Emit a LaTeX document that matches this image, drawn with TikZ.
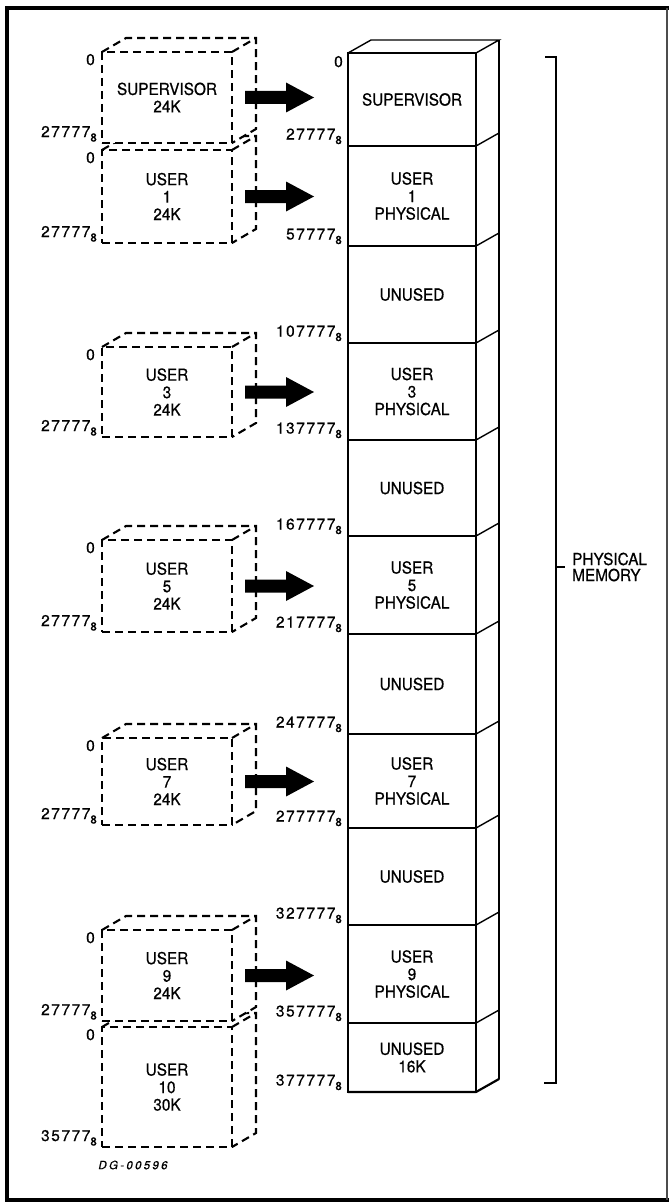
\documentclass[tikz,border=0pt]{standalone}
\usepackage{fontspec}
\setmainfont{TeX Gyre Heros}[FakeBold=0.6]
\newfontfamily\lblfont{TeX Gyre Heros}[FakeBold=0.6, FakeStretch=0.93]
\usetikzlibrary{calc}
\newcommand\eightsub{\raisebox{-4.5pt}{\fontsize{11.5}{11}\selectfont 8}}
\tikzset{
  lbl/.style={font=\lblfont\fontsize{16.5}{17.5}\selectfont, align=center},
  addr/.style={font=\fontsize{15.5}{15}\selectfont\addfontfeature{LetterSpace=10}, inner sep=0pt, anchor=base east},
  vdash/.style={dash pattern=on 8pt off 5pt, line width=2.1pt},
  vbox/.style={draw, fill=white, vdash, minimum width=130pt, inner sep=0pt, outer sep=0pt, lbl},
  mrow/.style={draw, line width=1.4pt, minimum width=128pt, inner sep=0pt, outer sep=0pt, lbl},
  mline/.style={line width=1.4pt},
}
\newcommand\vcube[5]{%
  \fill[white] ($(#2,#3)+(-65,-#4/2)$) -- ++(24,-14) -- ++(130,0) -- ++(0,#4) -- ++(-24,14) -- ++(0,-#4) -- cycle;
  \node[vbox, minimum height=#4pt] (#1) at (#2,#3) {#5};
  \draw[vdash] (#1.north west) -- ++(24,-14) -- ($(#1.north east)+(24,-14)$) -- ($(#1.south east)+(24,-14)$) -- (#1.south east);
  \draw[vdash] (#1.north east) -- ++(24,-14);
}
\newcommand\blockarrow[2]{%
  \coordinate (#1s) at ($(#1.east)+(13,0)$);
  \coordinate (#1t) at ($(#1.east -| #2.west)+(-34,0)$);
  \fill ($(#1s)+(0,-6.5)$) -- ($(#1t)+(-28,-6.5)$) -- ($(#1t)+(-28,-15)$) -- (#1t) -- ($(#1t)+(-28,15)$) -- ($(#1t)+(-28,6.5)$) -- ($(#1s)+(0,6.5)$) -- cycle;
}
\begin{document}
\begin{tikzpicture}[x=1pt,y={(0pt,-1pt)}]
\useasboundingbox (0,0) rectangle (669,1204);
% frame
\draw[line width=4pt, line cap=rect] (667,8) -- (7,8) -- (7,1200) -- (667,1200);
\draw[line width=1.2pt, black!70] (667,8) -- (667,1200);

% memory column rows
\node[mrow, minimum height=93pt] (r0) at (412,99.5) {SUPERVISOR};
\node[mrow, minimum height=100pt] (r1) at (412,196) {USER\\1\\PHYSICAL};
\node[mrow, minimum height=97pt] (r2) at (412,294.5) {UNUSED};
\node[mrow, minimum height=97pt] (r3) at (412,391.5) {USER\\3\\PHYSICAL};
\node[mrow, minimum height=96pt] (r4) at (412,488) {UNUSED};
\node[mrow, minimum height=98pt] (r5) at (412,585) {USER\\5\\PHYSICAL};
\node[mrow, minimum height=100pt] (r6) at (412,684) {UNUSED};
\node[mrow, minimum height=94pt] (r7) at (412,781) {USER\\7\\PHYSICAL};
\node[mrow, minimum height=97pt] (r8) at (412,876.5) {UNUSED};
\node[mrow, minimum height=98pt] (r9) at (412,974) {USER\\9\\PHYSICAL};
\node[mrow, minimum height=69pt] (r10) at (412,1057.5) {UNUSED\\16K};

% column depth
\draw[mline] (r0.north west) -- ++(23,-13) -- ($(r0.north east)+(23,-13)$) -- (r0.north east);
\draw[line width=2.6pt] ($(r0.north east)+(23,-13)$) -- ($(r10.south east)+(23,-13)$);
\draw[line width=2.2pt, line cap=round] (r10.south west) -- (r10.south east) -- ++(23,-13);
\draw[line width=1.9pt] (r0.north west) -- (r10.south west);
\foreach \k in {0,...,9} { \draw[mline] (r\k.south east) -- ++(23,-13); }

% column addresses
\node[addr] (c0) at ($(r0.north west)+(-5,14)$) {0};
\node[addr] (a0) at ($(r0.south west)+(-6,-6.5)$) {27777\eightsub};
\node[addr] (a1) at ($(r1.south west)+(-6,-6.5)$) {57777\eightsub};
\node[addr] (a2) at ($(r2.south west)+(-6,-6.5)$) {107777\eightsub};
\node[addr] (a3) at ($(r3.south west)+(-6,-6.5)$) {137777\eightsub};
\node[addr] (a4) at ($(r4.south west)+(-6,-6.5)$) {167777\eightsub};
\node[addr] (a5) at ($(r5.south west)+(-6,-6.5)$) {217777\eightsub};
\node[addr] (a6) at ($(r6.south west)+(-6,-6.5)$) {247777\eightsub};
\node[addr] (a7) at ($(r7.south west)+(-6,-6.5)$) {277777\eightsub};
\node[addr] (a8) at ($(r8.south west)+(-6,-6.5)$) {327777\eightsub};
\node[addr] (a9) at ($(r9.south west)+(-6,-6.5)$) {357777\eightsub};
\node[addr] (a10) at ($(r10.south west)+(-6,-6.5)$) {377777\eightsub};

% virtual address spaces
\vcube{v1}{167}{196.5}{93}{USER\\1\\24K}
\vcube{v0}{167}{97.5}{91}{SUPERVISOR\\24K}
\vcube{v3}{167}{392}{90}{USER\\3\\24K}
\vcube{v5}{167}{586}{92}{USER\\5\\24K}
\vcube{v7}{167}{781.5}{87}{USER\\7\\24K}
\vcube{v10}{167}{1087}{120}{USER\\10\\30K}
\vcube{v9}{167}{975.5}{91}{USER\\9\\24K}

\foreach \v/\t in {v0/27777,v1/27777,v3/27777,v5/27777,v7/27777,v9/27777,v10/35777} {
  \node[addr] (\v o) at ($(\v.north west)+(-7,13)$) {0};
  \node[addr] (\v b) at ($(\v.south west)+(-5,-6)$) {\t\eightsub};
}

% block arrows
\blockarrow{v0}{r0}
\blockarrow{v1}{r1}
\blockarrow{v3}{r3}
\blockarrow{v5}{r5}
\blockarrow{v7}{r7}
\blockarrow{v9}{r9}

% bracket
\coordinate (bt) at (556,57);
\coordinate (bb) at (556,1083);
\coordinate (bm) at (556,567);
\draw[line width=1.6pt] ($(bt)+(-11,0)$) -- (bt) -- (bb) -- ($(bb)+(-12,0)$);
\node[lbl, align=left, anchor=west, inner sep=0pt, font=\lblfont\fontsize{16.5}{16}\selectfont] (pm) at (572,567) {PHYSICAL\\MEMORY};
\draw[line width=1.2pt] (bm) -- ($(bm)+(9,0)$);

\node[font=\fontsize{11.5}{12}\selectfont\itshape\addfontfeature{LetterSpace=20}, inner sep=0pt] (dg) at (133,1165) {DG-00596};
\end{tikzpicture}
\end{document}
